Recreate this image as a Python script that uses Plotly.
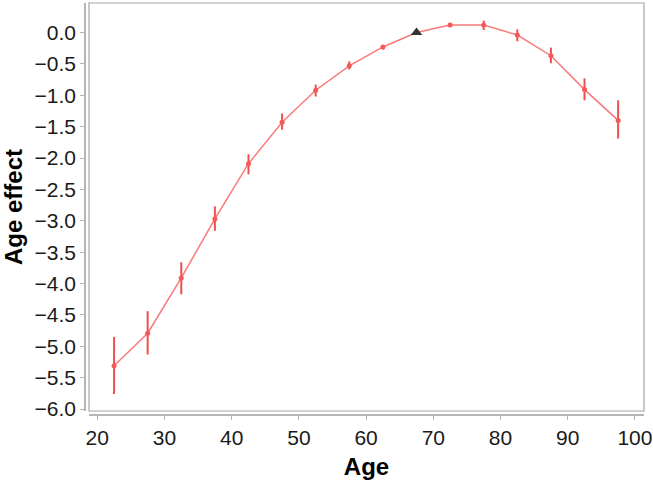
import plotly.graph_objects as go

ages = [22.5, 27.5, 32.5, 37.5, 42.5, 47.5, 52.5, 57.5, 62.5, 67.5, 72.5, 77.5, 82.5, 87.5, 92.5, 97.5]
effect = [-5.31, -4.79, -3.91, -2.97, -2.09, -1.43, -0.92, -0.53, -0.23, 0.0, 0.12, 0.12, -0.04, -0.37, -0.91, -1.40]
upper = [-4.85, -4.44, -3.66, -2.77, -1.94, -1.29, -0.83, -0.46, -0.20, 0.0, 0.15, 0.19, 0.05, -0.24, -0.73, -1.08]
lower = [-5.76, -5.13, -4.17, -3.16, -2.26, -1.55, -1.02, -0.59, -0.27, 0.0, 0.09, 0.04, -0.14, -0.49, -1.08, -1.69]
ref_age = 67.5

xs = [a for a in ages if a != ref_age]
ys = [e for a, e in zip(ages, effect) if a != ref_age]
ep = [u - e for a, e, u in zip(ages, effect, upper) if a != ref_age]
em = [e - l for a, e, l in zip(ages, effect, lower) if a != ref_age]
ref_y = [e for a, e in zip(ages, effect) if a == ref_age]

fig = go.Figure()
fig.add_trace(go.Scatter(x=ages, y=effect, mode="lines",
                         line=dict(color="#f87a7a", width=1.5), showlegend=False, hoverinfo="skip"))
fig.add_trace(go.Scatter(x=xs, y=ys, mode="markers",
                         marker=dict(color="#f25a5a", size=5),
                         error_y=dict(type="data", symmetric=False, array=ep, arrayminus=em,
                                      color="#f04f4f", thickness=2, width=0),
                         showlegend=False))
fig.add_trace(go.Scatter(x=[ref_age], y=ref_y, mode="markers",
                         marker=dict(symbol="triangle-up", color="#333333", size=10),
                         showlegend=False))

axis_font = dict(family="Liberation Sans, Arial, sans-serif", size=21, color="#1a1a1a")
title_font = dict(family="Liberation Sans, Arial, sans-serif", size=24, color="#000000")

fig.update_layout(
    width=653, height=480,
    margin=dict(l=85, r=9, t=3, b=65),
    paper_bgcolor="white", plot_bgcolor="white",
    xaxis=dict(domain=[4/559, 1], anchor="free", position=0, automargin=False,
               range=[18.77, 101.35], dtick=10, tick0=0,
               showgrid=False, zeroline=False,
               showline=True, linecolor="#b5b5b5", linewidth=1.5,
               ticks="outside", ticklen=4, tickcolor="#b5b5b5", tickwidth=1,
               tickfont=axis_font,
               title=dict(text="<b>Age</b>", font=title_font, standoff=10)),
    yaxis=dict(domain=[4/412, 1], anchor="free", position=0, automargin=False,
               range=[-6.03, 0.47], dtick=0.5, tick0=0, tickformat=".1f",
               showgrid=False, zeroline=False,
               showline=True, linecolor="#b5b5b5", linewidth=1.5,
               ticks="outside", ticklen=4, tickcolor="#b5b5b5", tickwidth=1,
               tickfont=axis_font,
               title=dict(text="<b>Age effect</b>", font=title_font, standoff=8)),
    shapes=[dict(type="rect", xref="x domain", yref="y domain", x0=0, x1=1, y0=0, y1=1,
                 line=dict(color="#a6a6a6", width=1.2), layer="above")],
)

fig.write_html("out.html", config={"displayModeBar": False},
               post_script="document.body.style.margin='0';document.body.style.overflow='hidden';")
